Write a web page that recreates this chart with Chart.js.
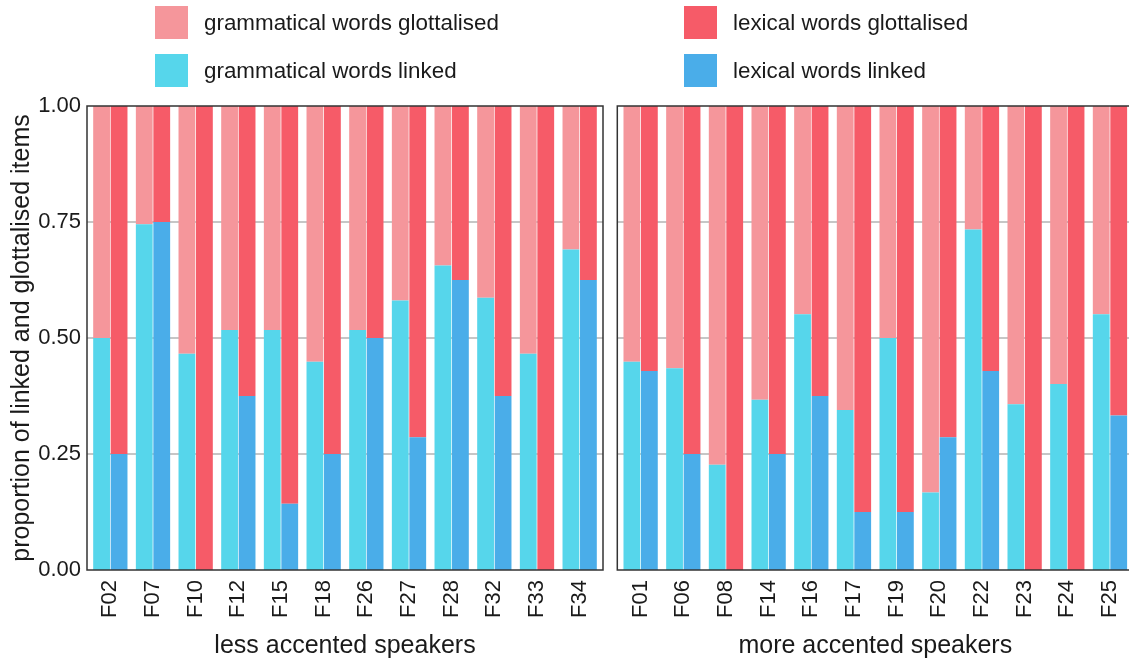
<!DOCTYPE html>
<html>
<head>
<meta charset="utf-8">
<script src="https://cdn.jsdelivr.net/npm/chart.js@4"></script>
<style>
html,body{margin:0;padding:0;background:#fff;}
#wrap{position:relative;width:1129px;height:661px;overflow:hidden;background:#fff;font-family:"Liberation Sans",Arial,sans-serif;}
#c1{position:absolute;left:0;top:0;}
#c2{position:absolute;left:610px;top:0;}
.leg{position:absolute;height:33px;display:flex;align-items:center;font-size:22.4px;color:#1a1a1a;white-space:nowrap;}
.sw{width:33px;height:33px;margin-right:16px;flex:none;}
</style>
</head>
<body>
<div id="wrap">
  <canvas id="c1" width="605" height="661"></canvas>
  <canvas id="c2" width="530" height="661"></canvas>
  <div id="legend"></div>
</div>
<script>
// ---- data ----
const lessSpeakers = ['F02','F07','F10','F12','F15','F18','F26','F27','F28','F32','F33','F34'];
const lessGramLinked = [0.500,0.745,0.466,0.517,0.517,0.449,0.517,0.581,0.656,0.587,0.466,0.691];
const lessGramGlott  = [0.500,0.255,0.534,0.483,0.483,0.551,0.483,0.419,0.344,0.413,0.534,0.309];
const lessLexLinked  = [0.250,0.750,0.000,0.375,0.143,0.250,0.500,0.286,0.625,0.375,0.000,0.625];
const lessLexGlott   = [0.750,0.250,1.000,0.625,0.857,0.750,0.500,0.714,0.375,0.625,1.000,0.375];

const moreSpeakers = ['F01','F06','F08','F14','F16','F17','F19','F20','F22','F23','F24','F25'];
const moreGramLinked = [0.449,0.435,0.227,0.367,0.551,0.345,0.500,0.167,0.734,0.357,0.401,0.551];
const moreGramGlott  = [0.551,0.565,0.773,0.633,0.449,0.655,0.500,0.833,0.266,0.643,0.599,0.449];
const moreLexLinked  = [0.429,0.250,0.000,0.250,0.375,0.125,0.125,0.286,0.429,0.000,0.000,0.333];
const moreLexGlott   = [0.571,0.750,1.000,0.750,0.625,0.875,0.875,0.714,0.571,1.000,1.000,0.667];

const yTickLabels = ['0.00','0.25','0.50','0.75','1.00'];
const gridValues = [0.25,0.5,0.75];
const seriesNames = ['grammatical words glottalised','grammatical words linked','lexical words glottalised','lexical words linked'];
const panelTitles = ['less accented speakers','more accented speakers'];
const yTitle = 'proportion of linked and glottalised items';

// ---- styles ----
const FONT = '"Liberation Sans", Arial, sans-serif';
const TEXT = '#1a1a1a';
const colGramGlott = '#F5969B';
const colGramLinked = '#56D6EB';
const colLexGlott = '#F65B68';
const colLexLinked = '#4AADE9';

const panelPlugin = {
  id: 'panel',
  beforeDatasetsDraw(chart, args, o) {
    const {ctx, chartArea: a, scales: {y}} = chart;
    const L = a.left - o.padL, R = a.right + o.padR;
    ctx.save();
    ctx.strokeStyle = '#b3b3b3';
    ctx.lineWidth = 1.6;
    gridValues.forEach(v => {
      const py = y.getPixelForValue(v);
      ctx.beginPath(); ctx.moveTo(L, py); ctx.lineTo(R, py); ctx.stroke();
    });
    ctx.restore();
  },
  afterDatasetsDraw(chart, args, o) {
    const {ctx, chartArea: a} = chart;
    const L = a.left - o.padL, R = a.right + o.padR;
    ctx.save();
    ctx.strokeStyle = '#333333';
    ctx.lineWidth = 1.5;
    ctx.strokeRect(L, a.top, R - L, a.bottom - a.top);
    ctx.restore();
  }
};

function makeChart(id, labels, gl, gg, ll, lg, title, showY, padLeft, padRight) {
  return new Chart(document.getElementById(id), {
    type: 'bar',
    data: {
      labels: labels,
      datasets: [
        {label: seriesNames[1], data: gl, stack: 'g', backgroundColor: colGramLinked},
        {label: seriesNames[0], data: gg, stack: 'g', backgroundColor: colGramGlott},
        {label: seriesNames[3], data: ll, stack: 'l', backgroundColor: colLexLinked},
        {label: seriesNames[2], data: lg, stack: 'l', backgroundColor: colLexGlott}
      ]
    },
    plugins: [panelPlugin],
    options: {
      responsive: false,
      animation: false,
      devicePixelRatio: 1,
      layout: {padding: {top: 106, bottom: 0, left: padLeft, right: padRight}},
      datasets: {bar: {categoryPercentage: 0.82, barPercentage: 0.96, borderWidth: 0}},
      plugins: {
        legend: {display: false},
        tooltip: {enabled: false},
        panel: {padL: 2, padR: 2}
      },
      scales: {
        x: {
          stacked: true,
          grid: {display: false, drawTicks: false},
          border: {display: false},
          ticks: {autoSkip: false, minRotation: 90, maxRotation: 90, padding: 10,
                  color: TEXT, font: {size: 22, family: FONT}},
          title: {display: true, text: title, color: TEXT, font: {size: 25, family: FONT},
                  padding: {top: 0, bottom: 0}},
          afterFit(s) { s.height = 91; s.paddingLeft = 0; s.paddingRight = 0; }
        },
        y: {
          stacked: true,
          min: 0, max: 1,
          display: showY,
          grid: {display: false, drawTicks: false},
          border: {display: false},
          ticks: {stepSize: 0.25, padding: 8, color: TEXT, font: {size: 22, family: FONT},
                  callback: (v, i) => yTickLabels[i]},
          title: {display: true, text: yTitle, color: TEXT, font: {size: 25, family: FONT},
                  padding: {top: 7, bottom: 0}},
          afterFit(s) { if (showY) s.width = 89; s.paddingTop = 0; s.paddingBottom = 0; }
        }
      }
    }
  });
}

makeChart('c1', lessSpeakers, lessGramLinked, lessGramGlott, lessLexLinked, lessLexGlott, panelTitles[0], true, 0, 4);
makeChart('c2', moreSpeakers, moreGramLinked, moreGramGlott, moreLexLinked, moreLexGlott, panelTitles[1], false, 9.3, 8.7);

// ---- legend (HTML, real text) ----
const legendItems = [
  {text: seriesNames[0], color: colGramGlott, x: 155, y: 6},
  {text: seriesNames[1], color: colGramLinked, x: 155, y: 54},
  {text: seriesNames[2], color: colLexGlott, x: 684, y: 6},
  {text: seriesNames[3], color: colLexLinked, x: 684, y: 54}
];
const legEl = document.getElementById('legend');
legendItems.forEach(it => {
  const d = document.createElement('div');
  d.className = 'leg';
  d.style.left = it.x + 'px';
  d.style.top = it.y + 'px';
  const sw = document.createElement('div');
  sw.className = 'sw';
  sw.style.background = it.color;
  const t = document.createElement('span');
  t.textContent = it.text;
  d.appendChild(sw); d.appendChild(t);
  legEl.appendChild(d);
});
</script>
</body>
</html>
